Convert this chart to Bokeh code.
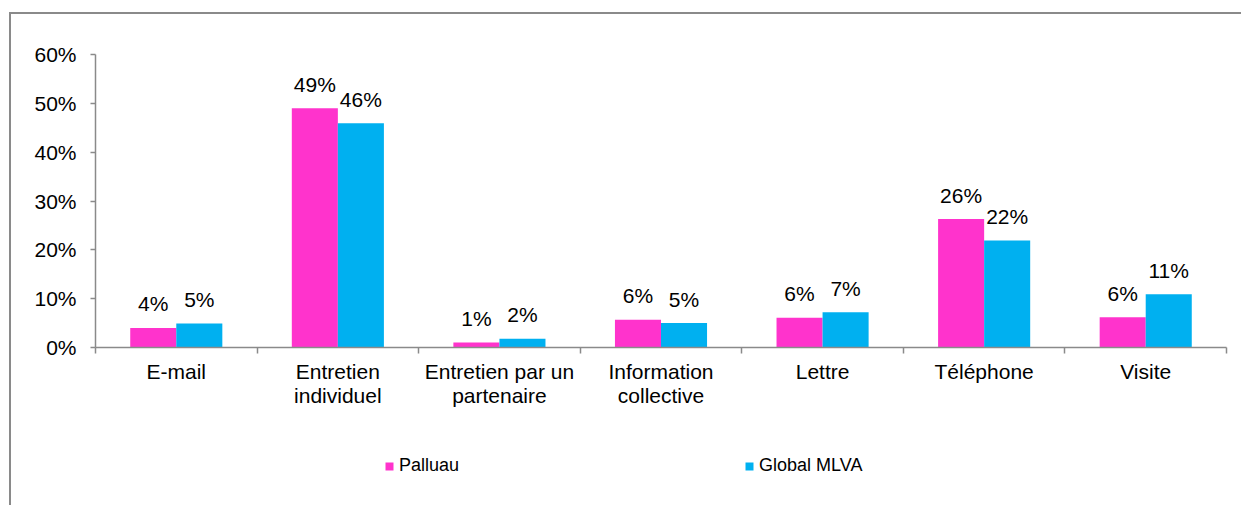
import numpy as np
from bokeh.plotting import figure
from bokeh.layouts import column
from bokeh.models import (ColumnDataSource, FixedTicker, NumeralTickFormatter,
                          Legend, LegendItem, Range1d)
from bokeh.core.properties import value
from bokeh.embed import file_html
from bokeh.resources import INLINE

categories = ["E-mail", "Entretien individuel", "Entretien par un partenaire",
              "Information collective", "Lettre", "Téléphone", "Visite"]
tick_labels = ["E-mail", "Entretien\nindividuel", "Entretien par un\npartenaire",
               "Information\ncollective", "Lettre", "Téléphone", "Visite"]
series_names = ["Palluau", "Global MLVA"]
palluau = [4.0, 49.0, 1.0, 5.7, 6.1, 26.3, 6.2]
global_mlva = [4.9, 45.9, 1.8, 5.0, 7.2, 21.9, 10.9]
colors = ["#FF33CC", "#00B0F0"]
y_ticks = [0, 10, 20, 30, 40, 50, 60]

FONT = "Liberation Sans"
AXIS_COLOR = "#8a8a8a"

n = len(categories)
centers = np.arange(n) + 0.5
bw = 0.285

W = 1230
H_MAIN, H_LEG = 423, 68

fig = figure(width=W, height=H_MAIN, output_backend="svg", toolbar_location=None,
             x_range=Range1d(0, n), y_range=Range1d(0, 0.6),
             min_border_left=84, min_border_top=40, min_border_right=15,
             min_border_bottom=90)
fig.outline_line_color = None
fig.grid.visible = False

# legend strip (bars drawn out of its visible range; only the legend shows)
leg = figure(width=W, height=H_LEG, output_backend="svg", toolbar_location=None,
             x_range=Range1d(0, n), y_range=Range1d(5, 6),
             x_axis_location=None, y_axis_location=None,
             min_border_left=0, min_border_top=0, min_border_right=0,
             min_border_bottom=0)
leg.outline_line_color = None
leg.grid.visible = False

leg_renderers = []
for k, (vals, col) in enumerate(zip([palluau, global_mlva], colors)):
    offs = -bw / 2 if k == 0 else bw / 2
    src = ColumnDataSource(dict(
        x=centers + offs,
        top=np.array(vals) / 100.0,
        lab=[f"{round(v):d}%" for v in vals],
    ))
    fig.vbar(x="x", top="top", width=bw, bottom=0, source=src,
             fill_color=col, line_color=None)
    fig.text(x="x", y="top", text="lab", source=src, text_align="center",
             text_baseline="alphabetic", y_offset=-24,
             text_font=value(FONT), text_font_size="21px", text_color="#000000")
    r2 = leg.vbar(x="x", top="top", width=bw, bottom=0, source=src,
                  fill_color=col, line_color=None)
    leg_renderers.append(r2)

# y axis
yax = fig.yaxis[0]
yax.ticker = FixedTicker(ticks=[t / 100 for t in y_ticks])
yax.formatter = NumeralTickFormatter(format="0%")
yax.major_tick_in = 0
yax.major_tick_out = 5
yax.minor_tick_line_color = None
yax.axis_line_color = AXIS_COLOR
yax.major_tick_line_color = AXIS_COLOR
yax.axis_line_width = 1.5
yax.major_tick_line_width = 1.5
yax.major_label_text_font = FONT
yax.major_label_text_font_size = "21px"
yax.major_label_text_color = "#000000"
yax.major_label_standoff = 14

# x axis
xax = fig.xaxis[0]
xax.ticker = FixedTicker(ticks=list(centers), minor_ticks=list(range(n + 1)))
xax.major_label_overrides = {float(c): t for c, t in zip(centers, tick_labels)}
xax.major_tick_in = 0
xax.major_tick_out = 0
xax.minor_tick_in = 0
xax.minor_tick_out = 6
xax.axis_line_color = AXIS_COLOR
xax.minor_tick_line_color = AXIS_COLOR
xax.axis_line_width = 1.5
xax.minor_tick_line_width = 1.5
xax.major_label_text_font = FONT
xax.major_label_text_font_size = "21px"
xax.major_label_text_color = "#000000"
xax.major_label_standoff = 6
xax.major_label_text_line_height = 1.05

legend = Legend(items=[LegendItem(label=nm, renderers=[r])
                       for nm, r in zip(series_names, leg_renderers)],
                orientation="horizontal", location=(289, 29),
                glyph_width=10, glyph_height=10, label_standoff=5,
                spacing=285, padding=0, margin=0,
                label_text_font=FONT, label_text_font_size="18px",
                label_text_color="#000000", border_line_color=None,
                background_fill_alpha=0)
leg.add_layout(legend, "center")

p = column(fig, leg, spacing=0)
p.styles = {"margin-left": "9px", "margin-top": "12px",
            "border-top": f"2px solid {AXIS_COLOR}",
            "border-left": f"2px solid {AXIS_COLOR}"}

open("out.html", "w").write(file_html(p, INLINE))
